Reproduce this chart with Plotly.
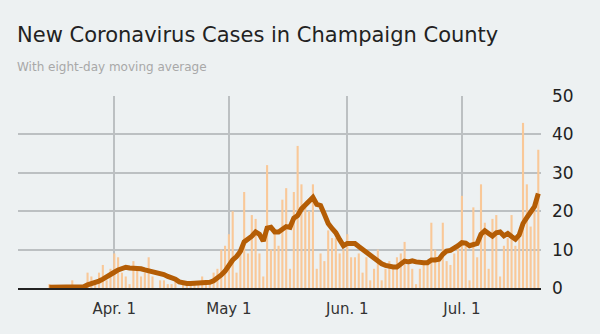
import plotly.graph_objects as go
import pandas as pd

start_date = "2020-03-15"
cases = [1, 0, 0, 0, 0, 0, 2, 0, 0, 0, 4, 3, 1, 4, 6, 2, 5,
         9, 8, 4, 3, 1, 7, 5, 3, 4, 8, 3, 0, 2, 2, 1, 1, 2, 0, 1, 1, 1, 1, 1, 3, 1, 1, 4, 5, 10, 11,
         14, 20, 4, 9, 25, 9, 19, 18, 9, 3, 32, 10, 14, 11, 23, 26, 5, 25, 37, 27, 21, 20, 27, 5, 9, 7, 15, 13, 13, 9, 10,
         14, 8, 8, 9, 4, 8, 2, 5, 10, 2, 5, 7, 5, 8, 9, 12, 6, 5, 1, 5, 6, 6, 17, 10, 7, 17, 7, 6, 9, 11,
         24, 11, 2, 21, 8, 27, 17, 5, 18, 19, 3, 11, 13, 19, 11, 13, 43, 27, 16, 20, 36]
moving_avg = [0.2, 0.2, 0.2, 0.2, 0.2, 0.3, 0.4, 0.4, 0.3, 0.3, 0.8, 1.1, 1.3, 1.8, 2.3, 2.8, 3.4,
              4.1, 4.7, 5.1, 5.4, 5.2, 5.2, 5.3, 5.0, 4.7, 4.5, 4.4, 4.0, 3.8, 3.5, 3.0, 2.7, 2.3, 1.6, 1.3, 1.2,
              1.2, 1.2, 1.3, 1.4, 1.5, 1.5, 1.9, 2.5, 3.4, 4.4,
              6.0, 7.3, 8.2, 9.5, 12.0, 12.7, 13.5, 14.6, 14.0, 12.2, 15.6, 15.8, 14.6, 14.6, 15.2, 16.0, 15.8,
              18.2, 18.9, 20.6, 21.6, 22.8, 23.6, 21.8, 21.5, 19.2, 16.8, 15.5, 14.4, 12.6, 11.0,
              11.6, 11.7, 11.6, 10.8, 10.0, 9.1, 8.3, 7.6, 7.0, 6.3, 5.9, 5.6, 5.5, 5.5, 6.2, 7.0, 6.8, 7.1,
              6.8, 6.6, 6.6, 6.6, 7.3, 7.3, 7.5, 8.8, 9.6, 9.8, 10.3, 11.0,
              11.8, 11.7, 11.0, 11.2, 11.6, 14.0, 14.9, 14.2, 13.5, 14.4, 14.6, 13.6, 14.2, 13.4, 12.7, 13.8,
              16.8, 18.3, 19.8, 21.2, 24.6]
tick_dates = ["2020-04-01", "2020-05-01", "2020-06-01", "2020-07-01"]
tick_labels = ["Apr. 1", "May 1", "Jun. 1", "Jul. 1"]
y_ticks = [0, 10, 20, 30, 40, 50]

dates = pd.date_range(start_date, periods=len(cases), freq="D")

BG = "#edf1f2"
GRID = "#bcc0c2"
FONT = "DejaVu Sans"

fig = go.Figure()
fig.add_trace(go.Bar(x=dates, y=cases, marker=dict(color="#f9c898", line_width=0),
                     hoverinfo="skip"))
fig.add_trace(go.Scatter(x=dates, y=moving_avg, mode="lines",
                         line=dict(color="#b45d05", width=5)))

fig.update_layout(
    width=600, height=334,
    margin=dict(l=18, r=59, t=96, b=46),
    paper_bgcolor=BG, plot_bgcolor=BG,
    showlegend=False,
    bargap=0.45,
    font=dict(family=FONT, color="#222"),
    xaxis=dict(
        type="date",
        range=["2020-03-06 19:00", "2020-07-21 17:00"],
        tickvals=tick_dates, ticktext=tick_labels,
        showgrid=True, gridcolor=GRID, gridwidth=1.5,
        zeroline=False, ticks="",
        showline=True, linecolor="#222", linewidth=1.5,
        tickfont=dict(size=15, color="#333", family=FONT),
        ticklabelstandoff=6,
        layer="below traces",
    ),
    yaxis=dict(
        side="right", range=[0, 50], tickvals=y_ticks,
        showgrid=True, gridcolor=GRID, gridwidth=1.5,
        zeroline=False, ticks="",
        tickfont=dict(size=17, color="#222", family=FONT),
        ticklabelstandoff=10,
        layer="below traces",
    ),
    annotations=[
        dict(text="New Coronavirus Cases in Champaign County", xref="paper", yref="paper",
             x=-0.006, y=1.32, xanchor="left", yanchor="middle", showarrow=False,
             font=dict(size=21, color="#222", family=FONT)),
        dict(text="With eight-day moving average", xref="paper", yref="paper",
             x=-0.006, y=1.15, xanchor="left", yanchor="middle", showarrow=False,
             font=dict(size=12, color="#a8a8a8", family=FONT)),
    ],
)

fig.write_html("out.html")
